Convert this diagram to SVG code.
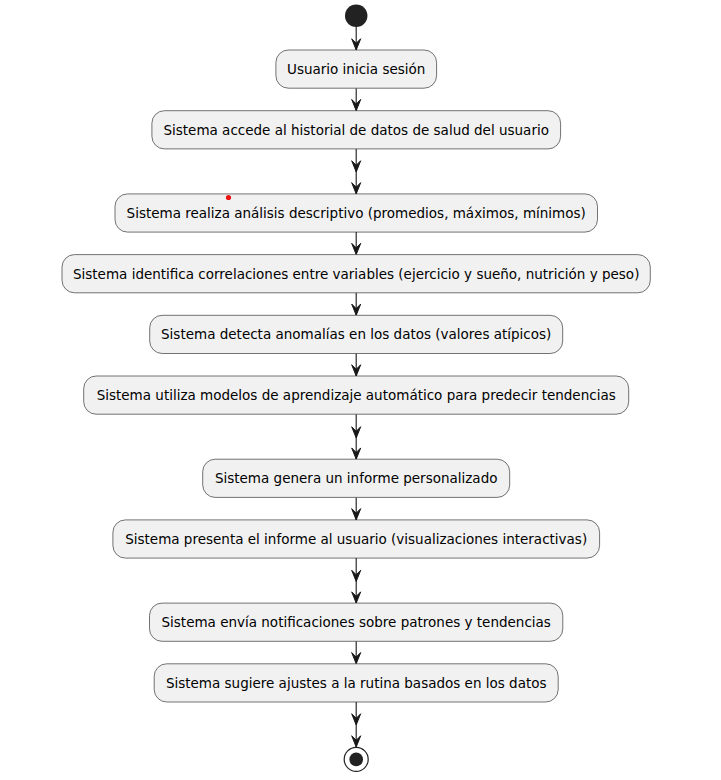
<svg xmlns="http://www.w3.org/2000/svg" width="721" height="780" viewBox="0 0 721 780">
<style>
.box{fill:#F1F1F1;stroke:#181818;stroke-width:0.6}
.lbl{font-family:"DejaVu Sans",Verdana,sans-serif;font-size:13.5px;fill:#000;text-anchor:middle}
.ln{stroke:#181818;stroke-width:1.1;fill:none}
.ah{fill:#181818;stroke:#181818;stroke-width:1}
</style>
<defs>
<polygon id="head" class="ah" points="-4.5,-11.25 0,0 4.5,-11.25 0,-6.75"/>
</defs>
<rect width="721" height="780" fill="#FFFFFF"/>
<g id="connectors">
<line class="ln" x1="356.2" y1="27" x2="356.2" y2="50"/>
<use href="#head" x="356.2" y="50"/>
<line class="ln" x1="356.2" y1="88.2" x2="356.2" y2="110.7"/>
<use href="#head" x="356.2" y="110.7"/>
<line class="ln" x1="356.2" y1="148.9" x2="356.2" y2="193.9"/>
<use href="#head" x="356.2" y="172"/>
<use href="#head" x="356.2" y="193.9"/>
<line class="ln" x1="356.2" y1="232.1" x2="356.2" y2="254.6"/>
<use href="#head" x="356.2" y="254.6"/>
<line class="ln" x1="356.2" y1="292.8" x2="356.2" y2="315.3"/>
<use href="#head" x="356.2" y="315.3"/>
<line class="ln" x1="356.2" y1="353.5" x2="356.2" y2="376"/>
<use href="#head" x="356.2" y="376"/>
<line class="ln" x1="356.2" y1="414.2" x2="356.2" y2="459.2"/>
<use href="#head" x="356.2" y="438"/>
<use href="#head" x="356.2" y="459.2"/>
<line class="ln" x1="356.2" y1="497.4" x2="356.2" y2="519.9"/>
<use href="#head" x="356.2" y="519.9"/>
<line class="ln" x1="356.2" y1="558.1" x2="356.2" y2="603.1"/>
<use href="#head" x="356.2" y="581.5"/>
<use href="#head" x="356.2" y="603.1"/>
<line class="ln" x1="356.2" y1="641.3" x2="356.2" y2="663.8"/>
<use href="#head" x="356.2" y="663.8"/>
<line class="ln" x1="356.2" y1="702" x2="356.2" y2="747"/>
<use href="#head" x="356.2" y="725"/>
<use href="#head" x="356.2" y="747"/>
</g>
<g id="start"><circle cx="356.2" cy="15.7" r="11.25" fill="#222222"/></g>
<g id="n1"><rect class="box" x="275.9" y="50" width="160.7" height="38.2" rx="12.5"/><text class="lbl" x="356.2" y="74">Usuario inicia sesión</text></g>
<g id="n2"><rect class="box" x="151.9" y="110.7" width="408.7" height="38.2" rx="12.5"/><text class="lbl" x="356.2" y="134.7">Sistema accede al historial de datos de salud del usuario</text></g>
<g id="n3"><rect class="box" x="115" y="193.9" width="482.5" height="38.2" rx="12.5"/><text class="lbl" x="356.2" y="217.9">Sistema realiza análisis descriptivo (promedios, máximos, mínimos)</text></g>
<g id="n4"><rect class="box" x="62" y="254.6" width="588.3" height="38.2" rx="12.5"/><text class="lbl" x="356.2" y="278.6">Sistema identifica correlaciones entre variables (ejercicio y sueño, nutrición y peso)</text></g>
<g id="n5"><rect class="box" x="149.7" y="315.3" width="413" height="38.2" rx="12.5"/><text class="lbl" x="356.2" y="339.3">Sistema detecta anomalías en los datos (valores atípicos)</text></g>
<g id="n6"><rect class="box" x="83.7" y="376" width="545" height="38.2" rx="12.5"/><text class="lbl" x="356.2" y="400">Sistema utiliza modelos de aprendizaje automático para predecir tendencias</text></g>
<g id="n7"><rect class="box" x="202.7" y="459.2" width="307" height="38.2" rx="12.5"/><text class="lbl" x="356.2" y="483.2">Sistema genera un informe personalizado</text></g>
<g id="n8"><rect class="box" x="112.9" y="519.9" width="486.7" height="38.2" rx="12.5"/><text class="lbl" x="356.2" y="543.9">Sistema presenta el informe al usuario (visualizaciones interactivas)</text></g>
<g id="n9"><rect class="box" x="149.5" y="603.1" width="413.3" height="38.2" rx="12.5"/><text class="lbl" x="356.2" y="627.1">Sistema envía notificaciones sobre patrones y tendencias</text></g>
<g id="n10"><rect class="box" x="154.2" y="663.8" width="404" height="38.2" rx="12.5"/><text class="lbl" x="356.2" y="687.8">Sistema sugiere ajustes a la rutina basados en los datos</text></g>
<g id="end"><circle cx="356.2" cy="759.4" r="12" fill="none" stroke="#222222" stroke-width="1.2"/><circle cx="356.2" cy="759.4" r="6.8" fill="#222222"/></g>
<circle cx="228.5" cy="197.5" r="2.6" fill="#EE1111"/>
</svg>
